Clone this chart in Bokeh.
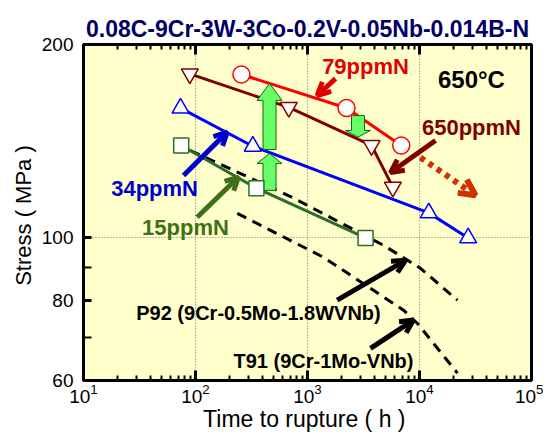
from bokeh.plotting import figure
from bokeh.models import (Range1d, LogAxis, FixedTicker, NumeralTickFormatter,
                          LogTickFormatter, Arrow, OpenHead, Label)
from bokeh.embed import file_html
from bokeh.resources import INLINE

FONT = "Liberation Sans"

# ---------------- data ----------------
time_79ppmN = [257, 2230, 6870]
stress_79ppmN = [179.6, 159.3, 139.3]
time_650ppmN = [89, 681, 3730, 5780]
stress_650ppmN = [180, 159.7, 139.3, 120]
time_34ppmN = [73.5, 325, 12100, 27200]
stress_34ppmN = [159.2, 138.9, 109.4, 100]
time_15ppmN = [74.5, 350, 3300]
stress_15ppmN = [139.3, 119.5, 100]
time_P92 = [90, 705, 4770, 10200, 21800]
stress_P92 = [136.8, 116, 97.4, 89.7, 80]
time_T91 = [236, 1390, 7200, 9600, 21800]
stress_T91 = [109.2, 93.3, 77.2, 73.6, 61.6]

x_major_ticks = [10, 100, 1000, 10000, 100000]
x_minor_ticks = [k * 10 ** e for e in range(1, 5) for k in range(2, 10)]
y_major_ticks = [60, 80, 100, 200]
y_minor_ticks = [70, 90]

title_text = "0.08C-9Cr-3W-3Co-0.2V-0.05Nb-0.014B-N"

# annotation texts: (text, x, y, color, size)
labels = [
    ("79ppmN", 3297, 184.8, "#e00000", "22px"),
    ("650°C", 29100, 176.4, "black", "24px"),
    ("650ppmN", 29100, 148.6, "#800000", "22px"),
    ("34ppmN", 43.1, 119.4, "#0000cc", "22px"),
    ("15ppmN", 81.4, 103.9, "#3f6f17", "22px"),
    ("P92 (9Cr-0.5Mo-1.8WVNb)", 365, 76.3, "black", "20px"),
    ("T91 (9Cr-1Mo-VNb)", 1389, 64.3, "black", "20px"),
]
# pointer arrows: (x_start, y_start, x_end, y_end, color)
arrows = [
    (1778, 177, 1222, 166.6, "#e00000"),
    (13900, 141.8, 5510, 126.4, "#800000"),
    (78.2, 125.1, 192, 146.1, "#0000cc"),
    (103.5, 107.7, 242, 124.4, "#3f6f17"),
    (1841, 80, 7500, 92.3, "black"),
    (3651, 67.3, 8830, 74.5, "black"),
]
# big block arrows: (x_center, y_base, y_head_base, y_tip)
block_arrows = [
    (458, 137.3, 163.7, 173.9),
    (458, 118.6, 130.6, 135.3),
    (2825, 155.0, 147.0, 143.5),
]

# ---------------- figure ----------------
p = figure(width=543, height=434, x_axis_type="log", y_axis_type="log",
           x_range=Range1d(10, 1e5), y_range=Range1d(60, 200),
           output_backend="svg", toolbar_location=None,
           min_border_left=83, min_border_right=12, min_border_top=44,
           min_border_bottom=54, border_fill_color="white")
p.background_fill_color = "#ffffcc"
p.outline_line_color = "black"
p.outline_line_width = 3

p.title.text = title_text
p.title.align = "center"
p.title.text_font = FONT
p.title.text_font_size = "23px"
p.title.text_font_style = "bold"
p.title.text_color = "#000066"
p.title.standoff = 5

# grids
p.xgrid.ticker = FixedTicker(ticks=[100, 1000, 10000])
p.ygrid.ticker = FixedTicker(ticks=[100])
for g in (p.xgrid, p.ygrid):
    g.grid_line_color = "#707070"
    g.grid_line_dash = "1 2"
    g.grid_line_width = 1

# axes
xa = p.xaxis[0]
xa.ticker = FixedTicker(ticks=x_major_ticks, minor_ticks=x_minor_ticks)
xa.formatter = LogTickFormatter()
ya = p.yaxis[0]
ya.ticker = FixedTicker(ticks=y_major_ticks, minor_ticks=y_minor_ticks)
ya.formatter = NumeralTickFormatter(format="0")
for ax in (xa, ya):
    ax.axis_line_color = None
    ax.major_tick_in = 10
    ax.major_tick_out = 0
    ax.minor_tick_in = 5
    ax.minor_tick_out = 0
    ax.major_tick_line_width = 3
    ax.minor_tick_line_width = 2
    ax.major_label_text_font = FONT
    ax.major_label_text_font_size = "19px"
    ax.major_label_text_color = "black"
    ax.axis_label_text_font = FONT
    ax.axis_label_text_font_style = "normal"
    ax.axis_label_text_color = "black"
ya.minor_tick_in = 8
ya.major_tick_in = 8
xa.axis_label = "Time to rupture  ( h )"
xa.axis_label_text_font_size = "23px"
xa.axis_label_standoff = 0
xa.major_label_standoff = 3
ya.axis_label = "Stress  ( MPa )"
ya.axis_label_text_font_size = "22px"
ya.axis_label_standoff = 3
ya.major_label_standoff = 10

top = LogAxis(ticker=FixedTicker(ticks=x_major_ticks, minor_ticks=x_minor_ticks),
              axis_line_color=None, major_tick_in=10, major_tick_out=0,
              minor_tick_in=5, minor_tick_out=0, major_tick_line_width=3,
              minor_tick_line_width=2, major_label_text_font_size="1px",
              major_label_text_color=None, major_label_standoff=0)
p.add_layout(top, "above")

# ---------------- data series ----------------
p.line(time_P92, stress_P92, line_color="black", line_width=3, line_dash="10 7")
p.line(time_T91, stress_T91, line_color="black", line_width=3, line_dash="10 7")

p.line(time_15ppmN, stress_15ppmN, line_color="#2b6e2b", line_width=3)
p.line(time_34ppmN, stress_34ppmN, line_color="#0000ff", line_width=3)
p.line(time_650ppmN, stress_650ppmN, line_color="#800000", line_width=3)
p.line(time_79ppmN, stress_79ppmN, line_color="#ff0000", line_width=3)

# block arrows (green)
def fx(x, dpx):
    return x * 10 ** (dpx / 112.0)

for (xc, yb, yh, yt) in block_arrows:
    w, hw = 6.5, 12.5
    xs = [fx(xc, -w), fx(xc, w), fx(xc, w), fx(xc, hw), xc, fx(xc, -hw), fx(xc, -w)]
    ys = [yb, yb, yh, yh, yt, yh, yh]
    p.patch(xs, ys, fill_color="#66ff66", line_color="#116611", line_width=1)

p.scatter(time_15ppmN, stress_15ppmN, marker="square", size=15,
          fill_color="white", line_color="#2b6e2b", line_width=1.5)
p.scatter(time_34ppmN, stress_34ppmN, marker="triangle", size=17,
          fill_color="white", line_color="#0000ff", line_width=1.5)
p.scatter(time_650ppmN, stress_650ppmN, marker="inverted_triangle", size=17,
          fill_color="white", line_color="#800000", line_width=1.5)
p.scatter(time_79ppmN, stress_79ppmN, marker="circle", size=17,
          fill_color="white", line_color="#ff0000", line_width=1.5)

# pointer arrows
for (x0, y0, x1, y1, c) in arrows:
    p.add_layout(Arrow(end=OpenHead(size=13, line_width=5, line_color=c),
                       x_start=x0, y_start=y0, x_end=x1, y_end=y1,
                       line_color=c, line_width=5))
# dotted trend arrow
p.add_layout(Arrow(end=OpenHead(size=16, line_width=6, line_color="#cc3300"),
                   x_start=10200, y_start=133.4, x_end=31600, y_end=116.5,
                   line_color="#cc3300", line_width=6, line_dash="5 5"))

for (txt, x, y, c, s) in labels:
    p.add_layout(Label(x=x, y=y, text=txt, text_color=c, text_font=FONT,
                       text_font_size=s, text_font_style="bold",
                       text_align="center", text_baseline="middle"))

open("out.html", "w").write(file_html(p, INLINE))
